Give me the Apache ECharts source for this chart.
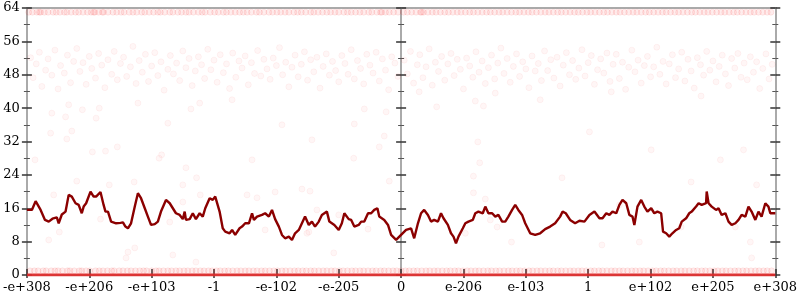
<!DOCTYPE html>
<html>
<head>
<meta charset="utf-8">
<script src="https://cdn.jsdelivr.net/npm/echarts@6/dist/echarts.min.js"></script>
<style>
  html, body { margin: 0; padding: 0; background: #fff; }
  #chart { width: 800px; height: 300px; }
</style>
</head>
<body>
<div id="chart"></div>
<script>
  // x tick labels, one per unit from -6 to 6
  let xLabels = ['-e+308', '-e+206', '-e+103', '-1', '-e-102', '-e-205', '0', 'e-206', 'e-103', '1', 'e+102', 'e+205', 'e+308']

  // running line
  let lineX = [-6.00,-5.92,-5.86,-5.78,-5.71,-5.65,-5.59,-5.52,-5.49,-5.44,
    -5.38,-5.33,-5.28,-5.22,-5.17,-5.12,-5.09,-5.05,-4.98,-4.93,
    -4.89,-4.82,-4.77,-4.74,-4.70,-4.65,-4.57,-4.50,-4.46,-4.42,
    -4.38,-4.33,-4.27,-4.22,-4.17,-4.11,-4.06,-4.01,-3.95,-3.90,
    -3.85,-3.82,-3.77,-3.71,-3.66,-3.61,-3.55,-3.50,-3.47,-3.45,
    -3.39,-3.34,-3.29,-3.23,-3.18,-3.14,-3.07,-3.02,-2.98,-2.91,
    -2.86,-2.82,-2.75,-2.71,-2.66,-2.59,-2.55,-2.50,-2.44,-2.39,
    -2.36,-2.31,-2.23,-2.18,-2.12,-2.07,-2.02,-1.96,-1.91,-1.86,
    -1.80,-1.75,-1.70,-1.64,-1.59,-1.54,-1.48,-1.43,-1.38,-1.32,
    -1.27,-1.19,-1.15,-1.07,-1.00,-0.95,-0.91,-0.84,-0.80,-0.75,
    -0.68,-0.64,-0.59,-0.53,-0.48,-0.43,-0.38,-0.35,-0.27,-0.21,
    -0.16,-0.08,0.00,0.08,0.16,0.21,0.27,0.32,0.37,0.43,
    0.48,0.53,0.59,0.64,0.68,0.75,0.80,0.84,0.88,0.92,
    0.99,1.03,1.08,1.15,1.19,1.24,1.31,1.35,1.40,1.46,
    1.51,1.56,1.62,1.67,1.72,1.78,1.83,1.88,1.94,1.99,
    2.07,2.15,2.23,2.31,2.39,2.47,2.55,2.59,2.64,2.71,
    2.79,2.86,2.94,3.02,3.10,3.18,3.23,3.29,3.34,3.39,
    3.45,3.50,3.55,3.61,3.66,3.71,3.74,3.79,3.85,3.90,
    3.95,4.01,4.06,4.11,4.17,4.20,4.25,4.30,4.35,4.41,
    4.46,4.50,4.57,4.62,4.66,4.73,4.77,4.82,4.89,4.90,
    4.93,4.98,5.05,5.09,5.14,5.20,5.25,5.30,5.36,5.41,
    5.46,5.52,5.57,5.62,5.68,5.73,5.78,5.84,5.89,5.92,
    6.00]
  let lineY = [15.6,15.6,17.7,15.6,13.2,12.8,13.5,13.8,12.4,14.5,
    15.2,19.2,18.8,17.2,16.8,14.8,16.4,17.2,20.0,18.8,
    18.8,19.9,16.8,15.2,15.2,12.8,12.4,12.5,12.6,11.6,
    11.2,12.4,16.4,19.6,18.4,16.0,14.0,12.0,12.2,12.8,
    15.2,15.0,18.0,17.2,16.0,14.8,14.4,13.4,15.2,13.2,
    13.4,14.8,13.4,14.8,14.0,16.0,18.4,18.0,18.8,15.2,
    11.2,10.4,10.0,10.8,9.6,11.2,11.6,12.4,12.4,14.8,
    13.2,14.0,14.4,14.8,14.0,15.6,13.4,11.6,9.6,8.8,
    9.2,8.4,10.0,10.8,12.4,14.0,12.0,12.8,11.6,12.8,
    14.4,15.2,12.8,12.0,10.8,12.4,14.8,13.4,13.2,11.6,
    12.0,12.8,12.8,14.8,14.8,15.6,16.0,14.0,13.2,12.0,
    9.6,8.4,9.6,10.8,11.2,8.8,12.4,14.8,15.6,14.4,
    12.8,13.2,12.8,14.8,13.6,12.0,10.0,9.2,7.6,9.2,
    11.2,12.4,12.8,13.2,14.8,15.2,14.8,16.4,14.8,14.8,
    14.0,14.4,12.8,12.8,14.0,15.6,16.8,15.6,14.4,12.4,
    10.0,9.6,10.0,11.0,11.6,12.4,14.0,15.2,14.8,13.2,
    12.4,13.0,12.8,14.4,15.2,13.6,13.6,14.8,14.4,15.2,
    14.8,16.8,18.0,17.2,14.4,14.0,12.0,16.4,18.0,16.4,
    15.2,16.0,14.8,15.2,14.8,10.4,10.0,9.2,10.0,10.8,
    11.2,12.8,13.6,14.8,15.2,16.4,17.2,16.8,17.2,20.0,
    17.2,16.4,15.6,16.0,14.4,14.8,12.8,12.0,12.4,13.2,
    14.4,14.0,16.4,15.2,13.2,15.2,14.0,17.2,16.4,14.8,
    14.8]

  // dense row of points near the top
  let topRowY = 63
  let topRowX = [-5.97,-5.91,-5.84,-5.8,-5.78,-5.72,-5.66,-5.58,-5.53,-5.47,-5.4,-5.36,-5.29,-5.22,-5.17,-5.1,-5.03,-4.97,-4.93,-4.91,
    -4.85,-4.79,-4.77,-4.7,-4.62,-4.56,-4.49,-4.44,-4.36,-4.3,-4.24,-4.16,-4.11,-4.04,-3.97,-3.9,-3.86,-3.79,-3.71,-3.66,
    -3.58,-3.52,-3.45,-3.4,-3.33,-3.25,-3.19,-3.14,-3.06,-2.99,-2.93,-2.85,-2.8,-2.73,-2.66,-2.59,-2.53,-2.47,-2.4,-2.32,
    -2.27,-2.2,-2.12,-2.06,-1.99,-1.93,-1.86,-1.8,-1.72,-1.66,-1.6,-1.53,-1.45,-1.4,-1.33,-1.26,-1.19,-1.13,-1.06,-1.0,
    -0.92,-0.86,-0.8,-0.73,-0.66,-0.6,-0.52,-0.47,-0.39,-0.33,-0.31,-0.25,-0.19,-0.12,-0.05,0.04,0.1,0.17,0.24,0.31,
    0.33,0.36,0.43,0.5,0.56,0.63,0.7,0.76,0.83,0.9,0.96,1.03,1.1,1.16,1.23,1.3,1.37,1.43,1.5,1.57,
    1.63,1.7,1.77,1.84,1.9,1.97,2.04,2.1,2.17,2.24,2.31,2.37,2.44,2.51,2.57,2.64,2.71,2.78,2.84,2.91,
    2.98,3.04,3.11,3.18,3.25,3.31,3.38,3.45,3.51,3.58,3.65,3.72,3.78,3.85,3.92,3.98,4.05,4.12,4.19,4.25,
    4.32,4.39,4.45,4.52,4.59,4.66,4.72,4.79,4.86,4.92,4.99,5.06,5.13,5.19,5.26,5.33,5.39,5.46,5.53,5.6,
    5.66,5.73,5.8,5.87,5.93]

  // dense row of points just above zero
  let lowRowY = 1
  let lowRowX = [-5.95,-5.88,-5.82,-5.74,-5.69,-5.61,-5.55,-5.5,-5.43,-5.35,-5.31,-5.24,-5.16,-5.12,-5.05,-4.99,-4.9,-4.84,-4.78,-4.71,
    -4.64,-4.6,-4.52,-4.46,-4.39,-4.33,-4.26,-4.19,-4.13,-4.08,-4.0,-3.93,-3.88,-3.81,-3.74,-3.68,-3.61,-3.55,-3.48,-3.42,
    -3.35,-3.29,-3.22,-3.16,-3.09,-3.03,-2.96,-2.9,-2.83,-2.77,-2.7,-2.63,-2.57,-2.5,-2.44,-2.37,-2.31,-2.24,-2.18,-2.11,
    -2.04,-1.98,-1.91,-1.85,-1.78,-1.71,-1.65,-1.58,-1.52,-1.45,-1.39,-1.32,-1.25,-1.19,-1.12,-1.06,-0.99,-0.93,-0.86,-0.79,
    -0.73,-0.66,-0.6,-0.53,-0.46,-0.4,-0.33,-0.27,-0.2,-0.13,-0.07,0.0,0.07,0.13,0.2,0.26,0.33,0.4,0.46,0.53,
    0.59,0.66,0.73,0.79,0.86,0.92,0.99,1.06,1.12,1.19,1.25,1.32,1.39,1.45,1.52,1.58,1.65,1.72,1.78,1.85,
    1.91,1.98,2.05,2.11,2.18,2.24,2.31,2.38,2.44,2.51,2.57,2.64,2.71,2.77,2.84,2.9,2.97,3.04,3.1,3.17,
    3.23,3.3,3.37,3.43,3.5,3.56,3.63,3.7,3.76,3.83,3.89,3.96,4.03,4.09,4.16,4.22,4.29,4.36,4.42,4.49,
    4.55,4.62,4.69,4.75,4.82,4.88,4.95,5.02,5.08,5.15,5.21,5.28,5.35,5.41,5.48,5.54,5.61,5.68,5.74,5.81,
    5.87,5.94]

  // the solid run of points sitting on zero
  let zeroRow = [[-6, 0], [6, 0]]

  // band of points between ~44 and ~55
  let midBand = [[-5.94,52.1],[-5.9,47.3],[-5.85,50.6],[-5.8,53.4],[-5.76,45.2],[-5.7,49.1],[-5.66,51.8],[-5.6,47.9],[-5.55,53.9],[-5.5,44.6],
    [-5.46,50.2],[-5.4,48.4],[-5.35,52.7],[-5.3,46.1],[-5.25,51.2],[-5.2,54.3],[-5.15,48.8],[-5.1,50.9],[-5.05,45.7],[-5.0,52.4],
    [-4.96,49.5],[-4.9,47.2],[-4.85,53.1],[-4.8,50.3],[-4.75,44.9],[-4.7,51.6],[-4.64,48.1],[-4.6,53.6],[-4.55,46.8],[-4.5,50.7],
    [-4.45,52.2],[-4.4,47.6],[-4.34,49.9],[-4.3,54.8],[-4.25,45.9],[-4.2,51.4],[-4.15,48.6],[-4.1,52.9],[-4.05,46.4],[-4.0,50.1],
    [-3.95,53.3],[-3.9,47.8],[-3.85,51.1],[-3.8,44.3],[-3.74,49.3],[-3.7,52.6],[-3.65,48.2],[-3.6,50.8],[-3.55,46.6],[-3.5,53.7],
    [-3.45,49.7],[-3.4,51.9],[-3.35,45.4],[-3.3,48.9],[-3.25,52.3],[-3.2,50.4],[-3.15,47.1],[-3.1,54.1],[-3.05,49.2],[-3.0,51.5],
    [-2.95,46.2],[-2.9,52.8],[-2.85,48.5],[-2.8,50.6],[-2.75,44.7],[-2.7,53.2],[-2.65,47.4],[-2.6,51.3],[-2.55,49.6],[-2.5,52.5],
    [-2.45,45.6],[-2.4,50.9],[-2.35,48.3],[-2.3,53.8],[-2.25,47.7],[-2.2,51.7],[-2.15,49.4],[-2.1,46.9],[-2.05,52.0],[-2.0,50.2],
    [-1.95,54.5],[-1.9,48.0],[-1.85,51.0],[-1.8,45.1],[-1.75,49.8],[-1.7,52.7],[-1.65,47.5],[-1.6,50.5],[-1.55,53.5],[-1.5,46.7],
    [-1.45,51.6],[-1.4,48.7],[-1.35,52.2],[-1.3,44.8],[-1.25,50.0],[-1.2,53.0],[-1.15,47.9],[-1.1,51.2],[-1.05,49.0],[-1.0,46.3],
    [-0.95,52.6],[-0.9,50.7],[-0.85,48.1],[-0.8,54.0],[-0.75,47.0],[-0.7,51.4],[-0.65,49.5],[-0.6,45.8],[-0.55,52.9],[-0.5,50.3],
    [-0.45,48.4],[-0.4,53.4],[-0.35,46.5],[-0.3,51.8],[-0.25,49.1],[-0.2,44.4],[-0.15,52.3],[-0.1,50.8],[-0.05,47.6],
    [0.05,51.5],[0.1,48.2],[0.15,53.6],[0.2,46.0],[0.26,50.4],[0.3,52.8],[0.35,47.3],[0.4,49.9],[0.45,54.2],[0.5,45.5],
    [0.55,51.0],[0.6,48.8],[0.65,52.4],[0.7,46.7],[0.75,50.6],[0.8,53.1],[0.85,47.8],[0.9,51.7],[0.95,49.3],[1.0,44.6],
    [1.05,52.0],[1.1,50.1],[1.15,47.4],[1.2,53.5],[1.25,48.6],[1.3,51.3],[1.35,45.9],[1.4,49.7],[1.45,52.7],[1.5,47.0],
    [1.55,50.8],[1.6,54.4],[1.65,48.3],[1.7,51.9],[1.75,46.2],[1.8,50.0],[1.85,53.0],[1.9,47.6],[1.95,51.1],[2.0,49.4],
    [2.05,44.9],[2.1,52.5],[2.15,48.9],[2.2,50.7],[2.25,46.6],[2.3,53.7],[2.35,49.0],[2.4,51.6],[2.45,47.2],[2.5,52.2],
    [2.55,45.3],[2.6,50.3],[2.65,53.3],[2.7,48.0],[2.75,51.4],[2.8,46.9],[2.85,49.6],[2.9,54.0],[2.95,47.7],[3.0,50.9],
    [3.05,52.6],[3.1,45.7],[3.15,49.2],[3.2,51.8],[3.25,48.4],[3.3,53.2],[3.35,46.4],[3.4,50.5],[3.45,52.9],[3.5,47.1],
    [3.55,51.0],[3.6,44.5],[3.65,49.8],[3.7,53.9],[3.75,48.7],[3.8,51.5],[3.85,46.0],[3.9,50.2],[3.95,52.4],[4.0,47.5],
    [4.05,49.9],[4.1,54.6],[4.15,48.1],[4.2,51.2],[4.25,45.8],[4.3,50.6],[4.35,52.8],[4.4,47.3],[4.45,49.4],[4.5,53.4],
    [4.55,46.5],[4.6,51.7],[4.65,48.9],[4.7,44.8],[4.75,52.1],[4.8,50.4],[4.85,47.9],[4.9,53.6],[4.95,49.1],[5.0,51.3],
    [5.05,46.3],[5.1,50.0],[5.15,52.7],[5.2,48.2],[5.25,45.4],[5.3,51.9],[5.35,49.6],[5.4,53.1],[5.45,47.4],[5.5,50.8],
    [5.55,46.8],[5.6,52.3],[5.65,48.6],[5.7,51.1],[5.75,44.7],[5.8,49.5],[5.85,53.0],[5.9,47.0],[5.95,50.5]]

  // scattered loose points
  let loosePoints = [[-5.60,38.8],[-5.33,40.8],[-5.38,37.9],[-5.62,34.0],[-5.28,34.5],[-5.36,32.6],[-5.87,27.6],[-4.89,37.6],
    [-4.84,40.0],[-5.11,39.6],[-4.95,29.5],[-4.74,29.7],[-4.55,30.7],[-5.20,22.5],[-4.68,21.6],[-4.28,22.3],[-4.22,41.2],
    [-3.74,36.4],[-3.88,28.0],[-3.84,28.8],[-3.45,25.7],[-3.28,23.3],[-3.37,39.8],[-3.23,41.2],[-0.59,39.8],[-0.24,39.1],
    [-0.75,36.2],[-0.27,33.3],[-0.35,30.7],[-0.76,28.0],[-0.19,22.5],[0.29,43.9],[0.57,40.3],[1.19,41.7],[1.32,40.5],
    [1.51,43.6],[1.23,31.9],[1.26,26.9],[1.16,23.7],[-5.57,19.2],[-5.65,8.4],[-4.38,5.5],[-4.27,6.5],[-4.41,4.1],[-3.66,4.8],
    [-3.50,21.6],[-3.29,3.1],[-1.08,5.3],[-1.48,10.3],[5.70,21.6],[5.62,4.1],[4.65,22.3],[3.22,7.2],[3.82,7.9],[4.49,11.5],
    [5.36,11.5],[5.60,7.9],[-5.48,10.3],[-4.82,13.4],[-3.71,12.7],[-3.50,17.5],[-3.22,19.2],[-2.47,19.2],[-2.31,18.5],
    [-2.18,10.8],[-2.02,19.9],[-1.59,20.6],[-1.46,20.1],[-1.35,15.6],[-1.51,10.0],[-1.00,14.4],[-0.53,11.0],[1.35,18.2],
    [1.43,13.2],[1.54,11.5],[1.03,10.0],[1.77,7.9],[1.16,19.7],[2.23,42.0],[3.37,43.9],[4.81,42.9],[3.02,34.3],[4.01,30.0],
    [5.12,27.6],[2.58,23.3],[3.50,16.8],[5.49,30.0],[-2.71,42.0],[-1.91,36.0],[-2.39,27.6],[-1.43,32.4]]

  let topRow = topRowX.map(x => [x, topRowY])
  let lowRow = lowRowX.map(x => [x, lowRowY])
  let lineData = lineX.map((x, i) => [x, lineY[i]])

  let axisGray = '#aaaaaa'
  let tickDark = '#333333'
  let serif = 'DejaVu Serif'

  // faint single points
  let dotStyle = {
    color: 'rgba(255, 0, 0, 0.045)',
    borderColor: 'rgba(235, 0, 0, 0.06)',
    borderWidth: 1
  }
  // rows where many points pile up
  let rowStyle = {
    color: 'rgba(255, 0, 0, 0.09)',
    borderColor: 'rgba(235, 0, 0, 0.1)',
    borderWidth: 1
  }

  // y axis helper: same scale, different place / tick direction
  function yAx(opts) {
    return Object.assign({
      type: 'value',
      min: 0,
      max: 64,
      interval: 8,
      axisLine: { show: true, onZero: false, lineStyle: { color: axisGray, width: 2 } },
      axisTick: { show: true, inside: false, length: 5, lineStyle: { color: tickDark, width: 1.5 } },
      minorTick: { show: true, splitNumber: 2, length: 3, lineStyle: { color: '#555', width: 1 } },
      axisLabel: { show: false },
      splitLine: { show: false },
      minorSplitLine: { show: false }
    }, opts)
  }

  let chart = echarts.init(document.getElementById('chart'), null, { renderer: 'canvas' })
  chart.setOption({
    animation: false,
    grid: { left: 24, right: 22, top: 8, bottom: 25 },
    xAxis: [
      {
        type: 'value',
        min: -6,
        max: 6,
        interval: 1,
        position: 'bottom',
        axisLine: { onZero: false, lineStyle: { color: axisGray, width: 2 } },
        axisTick: { inside: true, length: 6, lineStyle: { color: tickDark, width: 1.5 } },
        axisLabel: {
          margin: 6,
          color: '#000',
          fontFamily: serif,
          fontSize: 13,
          showMinLabel: true,
          showMaxLabel: true,
          formatter: v => xLabels[Math.round(v) + 6]
        },
        splitLine: { show: false }
      },
      {
        type: 'value',
        min: -6,
        max: 6,
        interval: 1,
        position: 'bottom',
        axisLine: { onZero: false, show: false },
        axisTick: { inside: false, length: 3, lineStyle: { color: tickDark, width: 1.5 } },
        axisLabel: { show: false },
        splitLine: { show: false }
      },
      {
        type: 'value',
        min: -6,
        max: 6,
        position: 'top',
        axisLine: { onZero: false, lineStyle: { color: axisGray, width: 2 } },
        axisTick: { show: false },
        axisLabel: { show: false },
        splitLine: { show: false }
      }
    ],
    yAxis: [
      yAx({
        position: 'left',
        axisLabel: { show: true, margin: 7, color: '#000', fontFamily: serif, fontSize: 13 }
      }),
      yAx({ position: 'left', axisTick: { show: true, inside: true, length: 5, lineStyle: { color: tickDark, width: 1.5 } } }),
      // middle axis sitting on x = 0
      yAx({ position: 'left', axisLine: { show: true, onZero: true, onZeroAxisIndex: 0, lineStyle: { color: axisGray, width: 2 } } }),
      yAx({
        position: 'left',
        axisLine: { show: true, onZero: true, onZeroAxisIndex: 0, lineStyle: { color: axisGray, width: 2 } },
        axisTick: { show: true, inside: true, length: 5, lineStyle: { color: tickDark, width: 1.5 } }
      }),
      yAx({ position: 'right' }),
      yAx({ position: 'right', axisTick: { show: true, inside: true, length: 5, lineStyle: { color: tickDark, width: 1.5 } } })
    ],
    series: [
      { name: 'top', type: 'scatter', symbol: 'circle', symbolSize: 6, itemStyle: rowStyle, data: topRow, z: 2 },
      { name: 'band', type: 'scatter', symbol: 'circle', symbolSize: 6, itemStyle: dotStyle, data: midBand, z: 2 },
      { name: 'loose', type: 'scatter', symbol: 'circle', symbolSize: 6, itemStyle: dotStyle, data: loosePoints, z: 2 },
      { name: 'low', type: 'scatter', symbol: 'circle', symbolSize: 6, itemStyle: rowStyle, data: lowRow, z: 2 },
      {
        name: 'zero',
        type: 'line',
        symbol: 'none',
        lineStyle: { color: 'rgba(225, 40, 40, 0.9)', width: 3 },
        data: zeroRow,
        z: 3
      },
      {
        name: 'running',
        type: 'line',
        symbol: 'none',
        lineStyle: { color: '#8b0000', width: 2.4 },
        data: lineData,
        z: 4
      }
    ]
  })
</script>
</body>
</html>
